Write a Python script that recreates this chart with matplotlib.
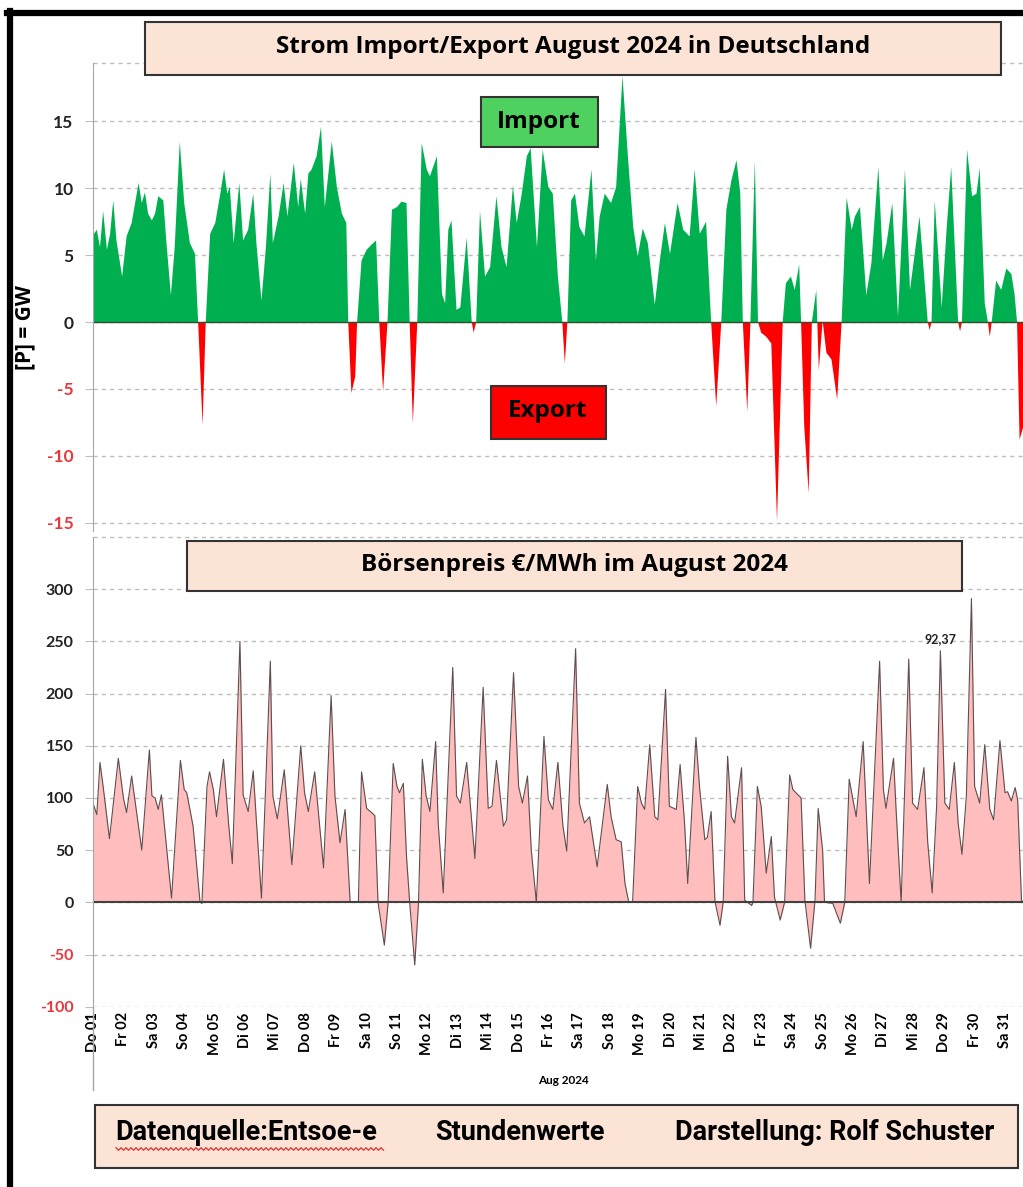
# -*- coding: utf-8 -*-

import matplotlib
matplotlib.use("Agg")
import matplotlib.pyplot as plt
from matplotlib.patches import Rectangle
from matplotlib.lines import Line2D
import numpy as np

OUTPUT_PATH = "out.png"

# hours since 01.08.2024 00:00 and cross-border flow in GW (+ import / - export)
flow_hours = [0, 0.8, 3, 5.5, 8, 11, 13.5, 16, 18.5, 23, 26.5, 30.5, 36, 38.5, 41, 43.5, 46.5, 49,
              51.5, 55.5, 58, 61.5, 64.5, 68.5, 72, 76.5, 80.5, 83, 86.5, 89, 92.5, 96.5, 100.5,
              103.5, 106, 108, 111, 115.5, 118.5, 122.5, 126.5, 129, 133, 136.5, 140, 142, 146.5,
              150.5, 153.5, 158.5, 162, 164, 167.5, 170, 172.5, 176.5, 180, 183, 188.5, 192.5,
              196.5, 200, 201.5, 204, 207, 208.5, 212, 216, 220, 223.5, 226, 229, 232.5, 236, 240,
              243.5, 247.5, 250, 252.5, 256, 259.5, 263.5, 266, 271.5, 275.5, 278, 280.5, 283, 287,
              290, 295, 299, 300.5, 302.5, 305.5, 309.5, 313.5, 318.5, 322.5, 326.5, 331.5, 334.5,
              338.5, 342.5, 345.5, 350.5, 355, 359.5, 363, 367, 370.5, 372.5, 374.5, 377.5, 380.5,
              384, 388, 393.5, 397, 400, 404, 409, 413, 418, 422.5, 426.5, 430, 434, 438, 443.5,
              447.5, 451.5, 455.5, 461.5, 466, 471, 475, 479, 484, 488, 492, 496, 500, 504, 508,
              511, 513, 516.5, 519, 522.5, 525, 527.5, 531.5, 535.5, 540, 544.5, 547, 551, 554,
              557.5, 559, 561.5, 565, 567.5, 571, 573, 576, 579, 583, 587.5, 591, 595, 599, 601.5,
              605.5, 610.5, 614.5, 620, 623.5, 626.5, 631, 635.5, 641, 645, 652.5, 659, 660.5, 662,
              664.5, 670, 674, 677.5, 683, 684.5, 686, 690, 694, 697.5, 700, 704, 706.5, 708, 709.5,
              713, 717, 721, 725, 727.5, 729.5, 731.5, 734.5]
flow_gw = [6.0, 6.6, 6.9, 5.6, 8.3, 5.4, 6.6, 9.1, 6.1, 3.4, 6.4, 7.4, 10.4, 8.9, 9.7, 8.1, 7.6, 8.1,
           9.4, 9.1, 5.9, 2.0, 5.6, 13.5, 8.9, 5.9, 5.1, 0, -7.7, 0, 6.6, 7.4, 9.6,
           11.4, 9.6, 10.1, 5.9, 10.4, 6.1, 6.9, 9.6, 5.9, 1.6, 5.6, 11.1, 5.9, 7.9,
           10.4, 7.9, 11.9, 8.6, 10.7, 8.1, 11.1, 11.4, 12.4, 14.6, 8.6, 13.5, 10.1,
           8.1, 7.4, 0, -5.3, -4.1, 0, 4.6, 5.4, 5.8, 6.1, 0, -5.2, 0, 8.4, 8.6,
           9.0, 8.9, 0, -7.6, 0, 13.4, 11.4, 10.9, 12.4, 2.1, 1.4, 6.9, 7.6, 0.9,
           1.1, 6.3, 0, -0.8, 0, 8.3, 3.4, 4.1, 9.4, 5.6, 4.1, 10.2, 7.4,
           9.6, 12.4, 13.0, 5.6, 12.9, 10.1, 9.6, 3.4, 0, -3.1, 0, 9.1, 9.6,
           7.1, 6.4, 11.4, 4.6, 7.9, 9.6, 8.9, 10.1, 18.4, 12.1, 7.1, 4.9, 7.0, 5.9, 1.3,
           4.6, 7.4, 5.1, 8.9, 6.9, 6.4, 11.4, 6.6, 7.5, 0, -6.3, 0, 8.4, 10.6, 12.1,
           9.6, 0, -6.7, 0, 12.1, 0, -0.8, -1.1, -1.6, -14.9, 0, 2.9, 3.4, 2.4,
           4.3, 0, -7.8, -12.8, 0, 2.4, -3.6, 0.1, -2.3, -2.8, -5.8, 0, 9.3, 6.9, 7.9,
           8.6, 2.0, 4.4, 11.6, 4.6, 5.9, 8.9, 0.4, 11.4, 2.4, 7.9, 0, -0.6, 0,
           9.1, 1.1, 7.1, 11.6, 0, -0.7, 0, 12.9, 9.4, 9.6, 11.5, 1.4, 0, -1.1, 0,
           3.1, 2.4, 4.0, 3.6, 2.1, 0, -8.8, -7.8]

# hours since 01.08.2024 00:00 and day-ahead price in EUR/MWh
price_hours = [0, 3, 5.5, 8, 13, 20, 24, 26.5, 30.5, 38.5, 44.5, 46.5, 49, 51.5, 54, 62, 69, 72,
               74, 79, 84.5, 86, 90, 92, 95, 97.5, 103, 107, 110, 116, 118.5, 122.5, 126.5, 129,
               133, 140, 142, 145.5, 151, 157, 164, 167, 170, 175, 182, 188, 191, 195, 199, 203,
               209.5, 212, 216, 220, 222.5, 225, 230, 233, 237, 240, 242, 245, 247.5, 250, 254,
               257, 260, 263, 266, 270.5, 272.5, 276.5, 284, 287, 290, 295, 301.5, 308, 312, 315,
               318.5, 324, 326.5, 332, 336, 339, 343, 346, 350, 356, 359.5, 363, 367, 371, 374,
               381, 384, 388, 392, 398, 406, 409, 413, 417, 420, 423, 426, 430, 433, 435.5, 439.5,
               443.5, 446, 452, 455, 460.5, 463.5, 467, 469.5, 476, 479, 483, 485, 488, 491, 495,
               497.5, 501, 504, 506.5, 512, 514.5, 520, 521, 524.5, 527.5, 531.5, 535.5, 538,
               542.5, 546, 550, 552.5, 556.5, 559, 562, 566.5, 570, 572.5, 576, 577.5, 584, 590,
               593.5, 597, 600, 602.5, 608, 613, 621, 624, 626, 632, 634, 638, 644, 647, 651,
               656, 659, 662.5, 666, 669, 672.5, 676, 680, 683, 686, 689.5, 693.5, 696, 700,
               704, 708, 711, 716, 720, 722, 725, 728, 730, 733, 734.5]
price_values = [95, 84, 134, 111, 61, 138, 100, 86, 121, 50, 146, 102, 100, 89, 103, 4, 136, 108,
                105, 73, 0, -1, 111, 125, 108, 82, 137, 76, 37, 250, 103, 87, 126, 78,
                4, 231, 102, 80, 127, 36, 150, 105, 87, 125, 33, 198, 102, 57, 89, 0,
                0, 125, 90, 86, 83, 0, -41, 0, 133, 111, 105, 114, 44, 0, -60,
                0, 137, 102, 87, 154, 76, 9, 225, 102, 95, 134, 42, 206, 90, 92,
                136, 73, 79, 220, 111, 95, 121, 50, 0, 159, 98, 89, 134, 73, 49,
                243, 95, 76, 82, 34, 113, 82, 60, 58, 18, 0, 0, 111, 95, 89, 151,
                82, 79, 204, 92, 89, 132, 76, 18, 158, 108, 60, 62, 87, 1, -22,
                0, 140, 82, 76, 129, 2, -3, 0, 111, 92, 28, 63, 5,
                -17, 0, 122, 108, 103, 100, 2, -44, 2, 90, 50, 0, -1, -20,
                0, 118, 98, 82, 154, 18, 231, 108, 90, 138, 89, 0, 233, 95, 89,
                129, 57, 9, 92, 241, 95, 89, 134, 76, 46, 102, 291, 111, 95,
                151, 89, 79, 155, 105, 106, 97, 110, 98, 2, 0]

day_labels = ["Do 01", "Fr 02", "Sa 03", "So 04", "Mo 05", "Di 06", "Mi 07", "Do 08", "Fr 09",
              "Sa 10", "So 11", "Mo 12", "Di 13", "Mi 14", "Do 15", "Fr 16", "Sa 17", "So 18",
              "Mo 19", "Di 20", "Mi 21", "Do 22", "Fr 23", "Sa 24", "So 25", "Mo 26", "Di 27",
              "Mi 28", "Do 29", "Fr 30", "Sa 31"]

flow_ticks = [-15, -10, -5, 0, 5, 10, 15]
price_ticks = [-100, -50, 0, 50, 100, 150, 200, 250, 300]

W, H = 1023, 1187
PEACH = "#FBE3D6"
GREEN = "#00B050"
RED = "#FF0000"
NEG_TEXT = "#E8383D"
GRID = "#BDBDBD"
FONT = ["Open Sans", "DejaVu Sans"]
TICK_FONT = ["Lato", "DejaVu Sans"]
FOOT_FONT = ["Roboto", "DejaVu Sans"]


def fx(px):
    return px / W


def fy(py):
    return 1 - py / H


def box(fig, x0, y0, x1, y1, face, lw=1.5):
    fig.patches.append(Rectangle((fx(x0), fy(y1)), (x1 - x0) / W, (y1 - y0) / H,
                                 transform=fig.transFigure, facecolor=face,
                                 edgecolor="#333333", linewidth=lw, zorder=5))


def style_axis(ax, ticks, ymax, size):
    for side in ["top", "right", "bottom"]:
        ax.spines[side].set_visible(False)
    ax.spines["left"].set_color("#A6A6A6")
    ax.set_facecolor("none")
    ax.set_yticks(ticks)
    ax.yaxis.grid(True, linestyle=(0, (3, 3)), color=GRID, linewidth=1)
    ax.axhline(ymax, linestyle=(0, (3, 3)), color=GRID, linewidth=1, clip_on=False)
    ax.set_axisbelow(True)
    ax.tick_params(axis="y", length=6, color="#BFBFBF", pad=8)
    ax.set_yticklabels([str(t) for t in ticks], fontsize=size, fontweight="bold", family=TICK_FONT)
    for lab, t in zip(ax.get_yticklabels(), ticks):
        lab.set_color(NEG_TEXT if t < 0 else "#222222")


def create_plot(output_path):
    fig = plt.figure(figsize=(W / 100, H / 100), dpi=100)
    xmax = 734.2

    # --- import / export
    ax1 = fig.add_axes([fx(93), fy(530.6), 1 - fx(93), (530.6 - 62.6) / H])
    x = np.array(flow_hours, dtype=float)
    y = np.array(flow_gw, dtype=float)
    ax1.fill_between(x, 0, y, where=y >= 0, interpolate=True, color=GREEN, linewidth=0)
    ax1.fill_between(x, 0, y, where=y <= 0, interpolate=True, color=RED, linewidth=0)
    ax1.axhline(0, color="#2F4F2F", linewidth=1)
    ax1.set_xlim(0, xmax)
    ax1.set_ylim(-15.6, 19.4)
    ax1.set_xticks([])
    style_axis(ax1, flow_ticks, 19.4, 12.5)

    # --- price
    ax2 = fig.add_axes([fx(93), fy(1006.7), 1 - fx(93), (1006.7 - 537) / H])
    px = np.array(price_hours, dtype=float)
    py = np.array(price_values, dtype=float)
    ax2.fill_between(px, 0, py, color="#FFBDBD", linewidth=0)
    ax2.plot(px, py, color="#5E4E4E", linewidth=0.8)
    ax2.axhline(0, color="#404040", linewidth=1.5)
    ax2.set_xlim(0, xmax)
    ax2.set_ylim(-100, 350)
    style_axis(ax2, price_ticks, 350, 11.5)
    ax2.set_xticks([24 * i for i in range(len(day_labels))])
    ax2.set_xticklabels(day_labels, rotation=90, fontsize=10.5, fontweight="bold", family=TICK_FONT)
    ax2.tick_params(axis="x", length=0, pad=4)
    ax2.text(669, 246, "92,37", ha="center", va="bottom", fontsize=9, fontweight="bold",
             family=TICK_FONT, color="#222222")

    # axis line running down past the labels, as in the original
    fig.lines.append(Line2D([fx(92.5), fx(92.5)], [fy(1006.7), fy(1090)], transform=fig.transFigure,
                            color="#A6A6A6", linewidth=1))
    fig.text(fx(563), fy(1081), "Aug 2024", ha="center", va="center", fontsize=8.5,
             fontweight="bold", family=TICK_FONT)

    # --- titles and labels
    box(fig, 145, 22, 1001, 75, PEACH)
    fig.text(fx(573), fy(47), "Strom Import/Export August 2024 in Deutschland", ha="center",
             va="center", fontsize=17.5, fontweight="bold", family=FONT, zorder=6)
    box(fig, 481, 97, 598, 147, "#4FD15F")
    fig.text(fx(539), fy(122), "Import", ha="center", va="center", fontsize=17.5,
             fontweight="bold", family=FONT, zorder=6)
    box(fig, 491, 386, 606, 439, RED)
    fig.text(fx(548), fy(411), "Export", ha="center", va="center", fontsize=17.5,
             fontweight="bold", family=FONT, zorder=6)
    box(fig, 187, 541, 962, 591, PEACH)
    fig.text(fx(574), fy(565), "Börsenpreis €/MWh im August 2024", ha="center", va="center",
             fontsize=17.5, fontweight="bold", family=FONT, zorder=6)
    fig.text(fx(25), fy(328), "[P] = GW", rotation=90, ha="center", va="center", fontsize=15,
             fontweight="bold", family=FONT)

    # --- footer
    box(fig, 95, 1105, 1018, 1168, PEACH)
    for xpos, txt in [(115, "Datenquelle:Entsoe-e"), (435, "Stundenwerte"),
                      (675, "Darstellung: Rolf Schuster")]:
        fig.text(fx(xpos), fy(1132), txt, ha="left", va="center", fontsize=19.5,
                 fontweight="bold", family=FOOT_FONT, zorder=6)
    # spell-check squiggle under the source
    sx = np.arange(116, 386, 2.5)
    sy = 1149 + 1.3 * np.where(np.arange(len(sx)) % 2 == 0, -1, 1)
    fig.lines.append(Line2D(fx(sx), fy(sy), transform=fig.transFigure, color="#E03030",
                            linewidth=0.9, zorder=7))

    # --- black frame (top and left edges visible)
    fig.lines.append(Line2D([fx(7), 1], [fy(13), fy(13)], transform=fig.transFigure,
                            color="black", linewidth=4.5, zorder=8))
    fig.lines.append(Line2D([fx(10), fx(10)], [fy(11), 0], transform=fig.transFigure,
                            color="black", linewidth=4.5, zorder=8))

    fig.savefig(output_path, dpi=100)
    plt.close(fig)


def main():
    create_plot(OUTPUT_PATH)


if __name__ == "__main__":
    main()
